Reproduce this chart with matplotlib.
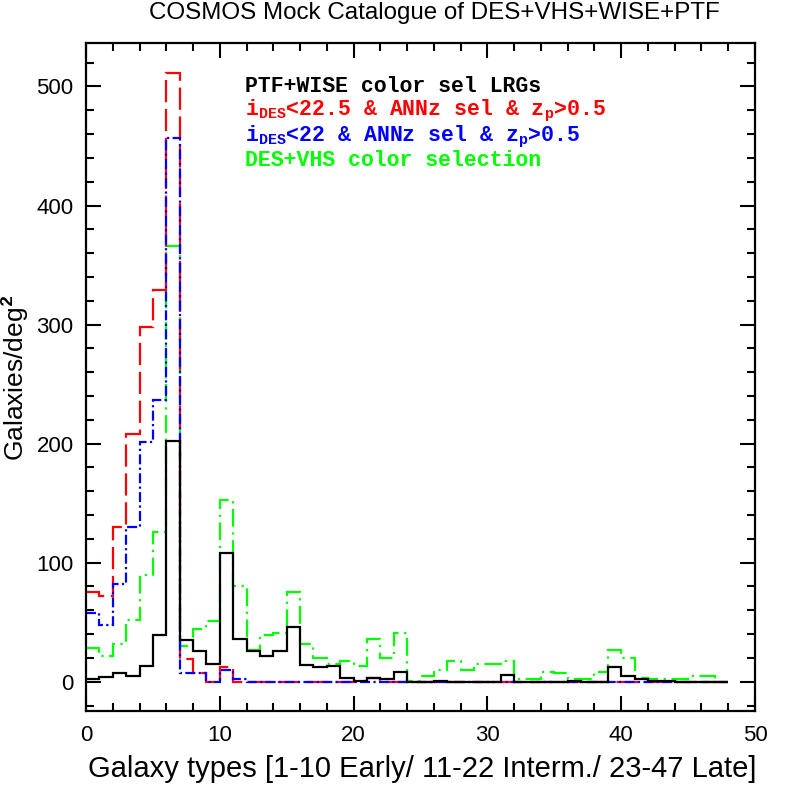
import numpy as np
import matplotlib
matplotlib.use("Agg")
import matplotlib.pyplot as plt
from matplotlib.ticker import MultipleLocator

# galaxy type bins 0..48, one value per bin (galaxies / deg^2)
bin_edges = np.arange(0, 49)
ptf_wise = [2, 4, 7, 5, 13, 39, 202, 35, 26, 15, 108, 36, 26, 22, 26, 46,
            14, 12, 13, 3, 1, 3, 2, 8, 0, 0, 1, 0, 0, 0, 0, 6,
            0, 0, 0, 0, 1, 0, 0, 12, 5, 2, 1, 1, 0, 0, 0, 0]
ides225 = [75, 72, 130, 208, 298, 329, 511, 19, 7, 0, 12, 0, 0, 0, 0, 0,
           0, 0, 0, 0, 1, 3, 0, 0, 0, 0, 0, 0, 0, 0, 0, 0,
           0, 0, 0, 0, 0, 0, 0, 0, 0, 0, 0, 0, 0, 0, 0, 0]
ides22 = [58, 48, 82, 130, 201, 237, 457, 7, 7, 0, 10, 2, 0, 0, 0, 0,
          0, 0, 0, 0, 0, 0, 0, 0, 0, 0, 0, 0, 0, 0, 0, 0,
          0, 0, 0, 0, 0, 0, 0, 0, 0, 0, 0, 0, 0, 0, 0, 0]
des_vhs = [28, 22, 32, 52, 90, 126, 366, 30, 44, 51, 153, 80, 27, 39, 41, 75,
           32, 20, 15, 17, 13, 36, 20, 41, 1, 5, 10, 17, 10, 15, 15, 17,
           2, 2, 8, 7, 2, 2, 8, 27, 20, 3, 2, 2, 2, 5, 5, 0]

plt.rcParams['font.family'] = ['Liberation Sans', 'DejaVu Sans']
plt.rcParams['mathtext.fontset'] = 'custom'
plt.rcParams['mathtext.rm'] = 'Liberation Mono:bold'
plt.rcParams['mathtext.bf'] = 'Liberation Mono:bold'

W = 797
fig = plt.figure(figsize=(7.97, 7.97), dpi=100)
ax = fig.add_axes([86 / W, 1 - 711 / W, (755 - 86) / W, (711 - 43) / W])

lw = 1.6
ax.stairs(des_vhs, bin_edges, baseline=None, color='#00ff00', lw=lw,
          linestyle=(0, (8, 2.5, 1, 2.5)))
ax.stairs(ides225, bin_edges, baseline=None, color='#ff0000', lw=lw,
          linestyle=(0, (10, 3)))
ax.stairs(ides22, bin_edges, baseline=None, color='#0000ff', lw=lw,
          linestyle=(0, (4.5, 1.5, 1, 1.5)))
ax.stairs(ptf_wise, bin_edges, baseline=None, color='black', lw=lw)

ax.set_xlim(0, 50)
ax.set_ylim(-24.6, 536.5)
ax.xaxis.set_major_locator(MultipleLocator(10))
ax.xaxis.set_minor_locator(MultipleLocator(2))
ax.yaxis.set_major_locator(MultipleLocator(100))
ax.yaxis.set_minor_locator(MultipleLocator(20))
ax.tick_params(which='both', direction='in', top=True, right=True, width=1.5)
ax.tick_params(which='major', length=11, labelsize=16)
ax.tick_params(axis='x', which='major', pad=10)
ax.tick_params(axis='y', which='major', pad=9)
ax.tick_params(which='minor', length=6)
for s in ax.spines.values():
    s.set_linewidth(1.6)

fig.text(15 / W, 1 - 378 / W, 'Galaxies/deg$^{\\mathbf{2}}$', rotation=90,
         ha='center', va='center', fontsize=19)
fig.text(422 / W, 1 - 769 / W,
         'Galaxy types [1-10 Early/ 11-22 Interm./ 23-47 Late]',
         ha='center', va='center', fontsize=21)
fig.text(434 / W, 1 - 13 / W, 'COSMOS Mock Catalogue of DES+VHS+WISE+PTF',
         ha='center', va='center', fontsize=17.4)

mono = ['Liberation Mono', 'DejaVu Sans Mono']
x0 = 245 / W
fig.text(x0, 1 - 92 / W, 'PTF+WISE color sel LRGs', color='black',
         fontsize=15.5, family=mono, weight='bold', va='baseline')
fig.text(x0, 1 - 115 / W,
         'i$_{\\mathbf{DES}}$<22.5 & ANNz sel & z$_{\\mathbf{p}}$>0.5',
         color='#ff0000', fontsize=15.5, family=mono, weight='bold',
         va='baseline')
fig.text(x0, 1 - 141 / W,
         'i$_{\\mathbf{DES}}$<22 & ANNz sel & z$_{\\mathbf{p}}$>0.5',
         color='#0000ff', fontsize=15.5, family=mono, weight='bold',
         va='baseline')
fig.text(x0, 1 - 166 / W, 'DES+VHS color selection', color='#00ff00',
         fontsize=15.5, family=mono, weight='bold', va='baseline')

fig.savefig('out.png', dpi=100)
